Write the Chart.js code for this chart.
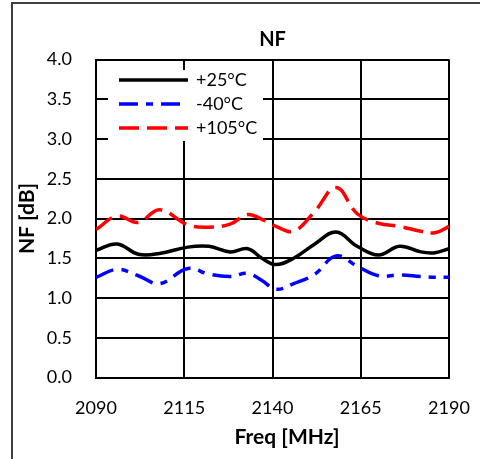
<!DOCTYPE html>
<html>
<head>
<meta charset="utf-8">
<script src="https://cdn.jsdelivr.net/npm/chart.js@4/dist/chart.umd.min.js"></script>
<style>
  body { margin: 0; background: #fff; }
</style>
</head>
<body>
<canvas id="myChart" width="480" height="459"></canvas>
<script>
// frekvence a namerene NF hodnoty
var freq = [2090, 2096, 2102, 2108, 2116, 2122, 2128, 2133, 2137, 2141, 2146, 2152, 2158, 2164, 2170, 2176, 2182, 2186, 2190];
var nf25 = [1.60, 1.68, 1.55, 1.56, 1.64, 1.65, 1.58, 1.62, 1.50, 1.42, 1.50, 1.68, 1.83, 1.65, 1.54, 1.65, 1.58, 1.57, 1.62];
var nfMinus40 = [1.26, 1.36, 1.28, 1.18, 1.37, 1.30, 1.27, 1.31, 1.22, 1.11, 1.18, 1.30, 1.53, 1.40, 1.28, 1.29, 1.27, 1.26, 1.26];
var nf105 = [1.86, 2.03, 1.95, 2.11, 1.92, 1.89, 1.93, 2.05, 1.99, 1.90, 1.84, 2.09, 2.39, 2.06, 1.94, 1.90, 1.84, 1.82, 1.90];
var xTicks = [2090, 2115, 2140, 2165, 2190];
var yTicks = [0, 0.5, 1, 1.5, 2, 2.5, 3, 3.5, 4];

var FONT = 'Lato';

function toPoints(values) {
    return values.map(function(v, i) { return { x: freq[i], y: v }; });
}

// ramecek kolem celeho grafu
var outerBorder = {
    id: 'outerBorder',
    beforeDraw: function(chart) {
        var ctx = chart.ctx;
        ctx.save();
        ctx.strokeStyle = '#404040';
        ctx.lineWidth = 2;
        ctx.strokeRect(12, 3, 600, 600);
        ctx.restore();
    }
};

// legenda uvnitr grafu + popisek osy x
var boxLegend = {
    id: 'boxLegend',
    afterDraw: function(chart) {
        var ctx = chart.ctx;
        ctx.save();
        ctx.fillStyle = '#fff';
        ctx.fillRect(108, 70, 155, 71);
        chart.data.datasets.forEach(function(ds, i) {
            var y = 80 + i * 24;
            ctx.strokeStyle = ds.borderColor;
            ctx.lineWidth = ds.borderWidth;
            ctx.setLineDash(ds.borderDash || []);
            ctx.beginPath();
            ctx.moveTo(119, y);
            ctx.lineTo(188, y);
            ctx.stroke();
            ctx.setLineDash([]);
            ctx.fillStyle = '#000';
            ctx.font = '18px ' + FONT;
            ctx.textBaseline = 'middle';
            ctx.textAlign = 'left';
            ctx.fillText(ds.label, 196, y);
        });
        ctx.font = 'bold 21px ' + FONT;
        ctx.textAlign = 'center';
        ctx.textBaseline = 'middle';
        ctx.fillStyle = '#000';
        ctx.fillText('Freq [MHz]', 287, 437);
        ctx.restore();
    }
};

var ctx = document.getElementById('myChart').getContext('2d');
var myChart = new Chart(ctx, {
    type: 'line',
    data: {
        datasets: [{
            label: '+25°C',
            data: toPoints(nf25),
            borderColor: '#000000',
            borderWidth: 3.5,
            pointRadius: 0,
            tension: 0.4
        }, {
            label: '-40°C',
            data: toPoints(nfMinus40),
            borderColor: '#0000ff',
            borderWidth: 3.5,
            borderDash: [19, 8, 7, 8],
            pointRadius: 0,
            tension: 0.4
        }, {
            label: '+105°C',
            data: toPoints(nf105),
            borderColor: '#ff0000',
            borderWidth: 3.5,
            borderDash: [20, 8],
            pointRadius: 0,
            tension: 0.4
        }]
    },
    options: {
        responsive: false,
        animation: false,
        layout: { padding: { left: 0, right: 31, top: 0, bottom: 0 } },
        plugins: {
            legend: { display: false },
            tooltip: { enabled: false },
            title: {
                display: true,
                text: 'NF',
                fullSize: false,
                color: '#000',
                font: { family: FONT, size: 20, weight: 'bold' },
                padding: { top: 28, bottom: 7.5 }
            }
        },
        scales: {
            x: {
                type: 'linear',
                min: 2090,
                max: 2190,
                afterBuildTicks: function(scale) {
                    scale.ticks = xTicks.map(function(v) { return { value: v }; });
                },
                ticks: {
                    padding: 20,
                    color: '#000',
                    font: { family: FONT, size: 18 },
                    maxRotation: 0,
                    callback: function(value) { return String(value); }
                },
                grid: { color: '#000', lineWidth: 2, drawTicks: false },
                border: { color: '#000', width: 2 },
                afterFit: function(scale) {
                    scale.height = 81.5;
                    scale.paddingLeft = 0;
                    scale.paddingRight = 0;
                }
            },
            y: {
                min: 0,
                max: 4,
                afterBuildTicks: function(scale) {
                    scale.ticks = yTicks.map(function(v) { return { value: v }; });
                },
                ticks: {
                    padding: 24,
                    color: '#000',
                    font: { family: FONT, size: 18 },
                    callback: function(value) { return value.toFixed(1); }
                },
                grid: { color: '#000', lineWidth: 2, drawTicks: false },
                border: { color: '#000', width: 2 },
                title: {
                    display: true,
                    text: 'NF [dB]',
                    color: '#000',
                    font: { family: FONT, size: 21, weight: 'bold' },
                    padding: { top: 15, bottom: 0 }
                },
                afterFit: function(scale) {
                    scale.width = 96;
                    scale.paddingTop = 0;
                    scale.paddingBottom = 0;
                }
            }
        }
    },
    plugins: [outerBorder, boxLegend]
});
</script>
</body>
</html>
